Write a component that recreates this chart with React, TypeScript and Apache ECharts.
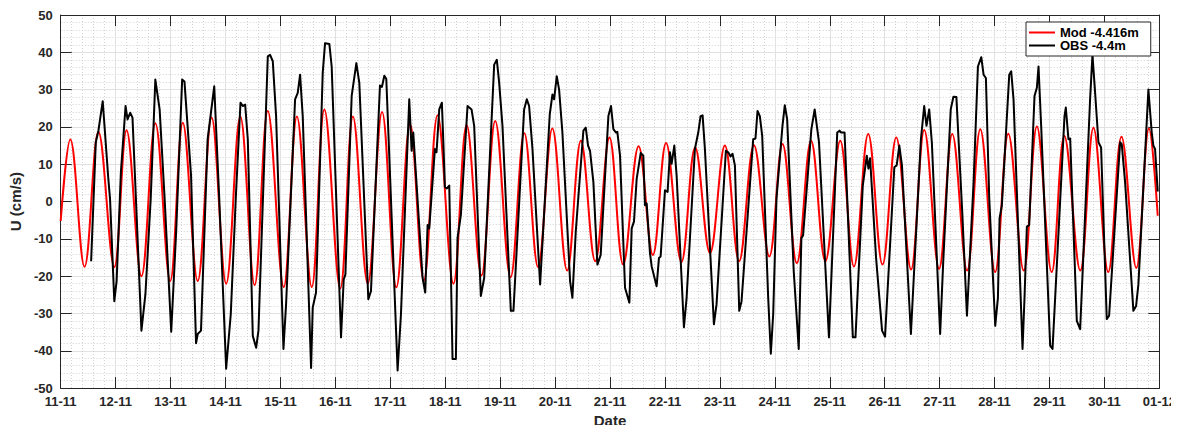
import React, { useEffect, useRef } from 'react';
import * as echarts from 'echarts';

// Tick labels along the date axis (one per day, value = days since 11-11)
const dateLabels = [
  '11-11', '12-11', '13-11', '14-11', '15-11', '16-11', '17-11', '18-11', '19-11', '20-11',
  '21-11', '22-11', '23-11', '24-11', '25-11', '26-11', '27-11', '28-11', '29-11', '30-11', '01-12',
];

// Model (red) – times in days since 11-11, U in cm/s (extremes of the tidal signal)
const modTime = [
  0, 0.175, 0.434, 0.687, 0.976, 1.199, 1.47, 1.723, 1.994, 2.223, 2.494, 2.747, 3.012,
  3.27, 3.53, 3.77, 4.06, 4.3, 4.57, 4.8, 5.09, 5.32, 5.59, 5.85, 6.11,
  6.36, 6.61, 6.86, 7.15, 7.39, 7.66, 7.91, 8.19, 8.44, 8.69, 8.95, 9.22, 9.47,
  9.73, 9.99, 10.24, 10.52, 10.78, 11.02, 11.3, 11.55, 11.82, 12.09, 12.35, 12.62, 12.9,
  13.14, 13.4, 13.66, 13.92, 14.19, 14.44, 14.7, 14.96, 15.21, 15.48, 15.72, 15.99, 16.23, 16.5,
  16.74, 17.01, 17.25, 17.53, 17.77, 18.04, 18.27, 18.56, 18.8, 19.07, 19.31, 19.58, 19.81, 19.97,
];
const modU = [
  -5.2, 16.6, -17.5, 18.7, -17.6, 19.1, -20, 21, -21.3, 21.1, -21.3, 22.5, -22,
  22.8, -22.4, 24.3, -22.9, 22.8, -22.9, 24.7, -23.3, 22.8, -22, 24.0, -23,
  20.7, -21.2, 23.1, -22, 20.5, -19.8, 21.6, -20.3, 18.3, -17.6, 19.6, -18.5, 16.3,
  -16, 17.2, -16.9, 14.8, -14.3, 15.7, -16.2, 14.5, -13.8, 15, -16, 15.1, -14.7,
  15.4, -16.5, 16.3, -16, 16.3, -17.4, 18.1, -16.9, 17.2, -18.2, 19.2, -18, 18.1, -18.5,
  19.4, -18.9, 18.2, -18.5, 20.1, -18.9, 17.6, -18.5, 19.8, -18.9, 17.4, -17.8, 19.6, -3.8,
];

// Observations (black) – times in days since 11-11, U in cm/s
const obsTime = [
  0.554, 0.639, 0.687, 0.765, 0.867, 0.898, 0.976, 1.018, 1.096, 1.181, 1.217, 1.265, 1.307, 1.349,
  1.47, 1.542, 1.639, 1.723, 1.801, 1.892, 2.012, 2.102, 2.211, 2.253, 2.373, 2.464, 2.494, 2.554,
  2.675, 2.795, 2.886, 3.012, 3.096, 3.187, 3.273, 3.315, 3.358, 3.406, 3.497, 3.558, 3.6,
  3.77, 3.812, 3.861, 3.921, 4.055, 4.103, 4.267, 4.315, 4.358, 4.406, 4.558, 4.588, 4.648,
  4.77, 4.812, 4.891, 4.933, 5.103, 5.152, 5.182, 5.297, 5.382, 5.436, 5.6, 5.648,
  5.812, 5.848, 5.891, 5.927, 6.133, 6.194, 6.345, 6.388, 6.418, 6.588, 6.636, 6.679, 6.709,
  6.812, 6.842, 6.891, 6.939, 6.97, 6.994, 7.03, 7.073, 7.133, 7.194, 7.224, 7.285,
  7.406, 7.479, 7.527, 7.648, 7.709, 7.891, 7.939, 7.982, 8.042, 8.194, 8.242,
  8.436, 8.485, 8.527, 8.588, 8.727, 8.903, 8.952, 8.982, 9.03, 9.073, 9.133, 9.273, 9.315, 9.376,
  9.515, 9.558, 9.6, 9.636, 9.697, 9.77, 9.83, 9.97, 10.018, 10.061, 10.109, 10.133, 10.182,
  10.273, 10.352, 10.394, 10.436, 10.485, 10.558, 10.606, 10.636, 10.667, 10.727, 10.758,
  10.848, 10.891, 10.921, 11.0, 11.048, 11.091, 11.121, 11.17, 11.212, 11.345, 11.394,
  11.545, 11.606, 11.648, 11.685, 11.727, 11.891, 11.939, 12.109, 12.152, 12.194, 12.23, 12.273,
  12.352, 12.394, 12.606, 12.648, 12.685, 12.727, 12.77, 12.879, 12.927, 12.97,
  13.03, 13.139, 13.181, 13.224, 13.344, 13.435, 13.483, 13.514, 13.665, 13.725, 13.804, 13.985,
  14.136, 14.178, 14.208, 14.269, 14.42, 14.468, 14.601, 14.674, 14.704, 14.734, 14.843, 14.952, 15.006,
  15.175, 15.218, 15.266, 15.314, 15.477, 15.526, 15.659, 15.719, 15.761, 15.81, 15.858,
  16.009, 16.063, 16.202, 16.251, 16.305, 16.414, 16.497, 16.618, 16.697, 16.758, 16.8, 16.842, 16.903,
  17.012, 17.061, 17.091, 17.133, 17.242, 17.267, 17.303, 17.345, 17.509, 17.545, 17.588, 17.63,
  17.727, 17.77, 17.8, 17.848, 18.012, 18.055, 18.273, 18.297, 18.345, 18.376, 18.497, 18.558,
  18.739, 18.782, 18.818, 18.891, 18.939, 19.042, 19.085, 19.285, 19.315, 19.376, 19.527, 19.576, 19.618,
  19.8, 19.861, 19.891, 19.921, 19.97,
];
const obsU = [
  -16, 15.9, 19, 26.9, 6.1, 0.8, -26.7, -21.3, 7.9, 25.6, 22, 23.8, 22.5, 7.9,
  -34.6, -24.9, 0.8, 32.7, 24.7, 0.8, -34.9, -8.1, 32.7, 32.2, 7, -38, -35.5, -34.6,
  16.7, 30.9, 0.8, -44.8, -30.2, 0.8, 26.5, 25.6, 26, 16.7, -36, -39.2, -34.6,
  38.9, 39.3, 37.6, 22.9, -39.5, -27.5, 27.4, 29.1, 34, 22.9, -44.6, -28.4, -24.4,
  34.5, 42.4, 42.2, 36.2, -36.4, -20.9, -19.6, 28.3, 37.1, 31.8, -26.2, -24,
  31.1, 30.7, 33.7, 32.9, -45.3, -30.2, 27.4, 13.6, 18.5, -20.5, -24.4, -6.3, -7.2,
  14.1, 13.2, 24.7, 26.5, 14.1, 3.9, 3.5, 4.3, -42.2, -42.2, -9.8, -3.6,
  25.6, 24.7, 20.3, -25.3, -20.5, 36.7, 38, 31.8, 20.3, -29.3, -29.3,
  24.7, 27.4, 25.6, 14.1, -22.2, 23.4, 28.7, 27.4, 33.6, 30, 18.5, -21.3, -25.8, -8.1,
  19, 19.8, 15, 13.6, 5.2, -16.9, -14.3, 22.9, 25.6, 19.4, 18.5, 18.7, 12.3,
  -23.1, -27.1, -7.2, -5.4, 6.1, 13, 12.3, -1, -0.5, -13.8, -17.4,
  -22.7, -15.1, -14.7, 3, 2.6, 13.2, 10.1, 15, 7, -33.7, -25.8,
  14.1, 18.5, 22.9, 23.1, 14.1, -32.9, -27.5, 13.6, 13.2, 12.1, 12.8, 9.7,
  -29.3, -26.7, 16.7, 16.9, 24.3, 22.9, 17.6, -25.8, -40.8, -30.2,
  0.8, 20.3, 25.8, 22.1, -18.7, -39.5, -9.8, -9.1, 19.4, 24.7, 15.9, -36.4,
  18.5, 19, 18.5, 18.5, -36.4, -36.4, 4.3, 12.3, 8.8, 11.6, -15.1, -34.6, -36.2,
  9.2, 9.7, 15, 9.7, -35.5, -21.3, 16.7, 25.6, 20.3, 24.7, 15.9,
  -35.5, -16.9, 24.7, 28.1, 28, -3.6, -30.6, 5.2, 36.2, 38.7, 34, 33.1, 0.8,
  -33.3, -25.8, -4.5, -1, 27.4, 34, 34.9, 27.4, -39.5, -25.8, -6.7, -6.3,
  28.3, 30.5, 36.2, 20.3, -38.6, -39.5, 22.9, 25.2, 16.7, 16.9, -32, -34.2,
  27.4, 39.3, 31.8, 15.9, 14.5, -31.5, -30.6, 15.9, 15.4, 5.2, -29.3, -28, -22.2,
  30, 18.5, 15, 14.1, 2.7,
];

const seriesNames = ['Mod -4.416m', 'OBS -4.4m'];

const FONT = '"Liberation Sans", Arial, Helvetica, sans-serif';
const AX = '#262626';

export default function App() {
  const ref = useRef<HTMLDivElement>(null);

  useEffect(() => {
    if (!ref.current) return;
    const chart = echarts.init(ref.current, null, { renderer: 'svg' });
    const pair = (t: number[], v: number[]) => t.map((x, i) => [x, v[i]]);

    const baseX = { type: 'value', min: 0, max: 20, interval: 1 };
    const baseY = { type: 'value', min: -50, max: 50, interval: 10 };
    const axLine = { show: true, onZero: false, lineStyle: { color: AX, width: 1 } };
    const axTick = { show: true, inside: true, length: 11, lineStyle: { color: AX, width: 1 } };
    const major = { show: true, lineStyle: { color: '#e1e1e1', width: 1 } };
    const minor = { show: true, lineStyle: { color: '#d2d2d2', width: 1, type: [1, 2] } };

    chart.setOption({
      animation: false,
      backgroundColor: '#ffffff',
      textStyle: { fontFamily: FONT },
      grid: { left: 59, right: 18, top: 15, bottom: 42 },
      legend: {
        left: 1026,
        top: 22,
        orient: 'vertical',
        backgroundColor: '#ffffff',
        borderColor: AX,
        borderWidth: 1,
        borderRadius: 0,
        padding: [4, 12, 4, 3],
        itemGap: 0,
        itemWidth: 26,
        itemHeight: 2,
        icon: 'rect',
        data: seriesNames,
        textStyle: { fontFamily: FONT, fontWeight: 'bold', fontSize: 13, color: '#000', lineHeight: 13 },
      },
      xAxis: [
        {
          ...baseX,
          position: 'bottom',
          name: 'Date',
          nameLocation: 'middle',
          nameGap: 22,
          nameTextStyle: { fontFamily: FONT, fontWeight: 'bold', fontSize: 15, color: AX },
          axisLine: axLine,
          axisTick: axTick,
          axisLabel: {
            formatter: (v: number) => dateLabels[Math.round(v)] ?? '',
            color: AX,
            fontFamily: FONT,
            fontWeight: 'bold',
            fontSize: 13,
            margin: 7,
          },
          splitLine: major,
          minorTick: { show: false, splitNumber: 5 },
          minorSplitLine: minor,
        },
        {
          ...baseX,
          position: 'top',
          axisLine: axLine,
          axisTick: axTick,
          axisLabel: { show: false },
          splitLine: { show: false },
        },
      ],
      yAxis: [
        {
          ...baseY,
          position: 'left',
          name: 'U (cm/s)',
          nameLocation: 'middle',
          nameRotate: 90,
          nameGap: 35,
          nameTextStyle: { fontFamily: FONT, fontWeight: 'bold', fontSize: 15, color: AX },
          axisLine: axLine,
          axisTick: axTick,
          axisLabel: { color: AX, fontFamily: FONT, fontWeight: 'bold', fontSize: 13, margin: 8 },
          splitLine: major,
          minorTick: { show: false, splitNumber: 5 },
          minorSplitLine: minor,
        },
        {
          ...baseY,
          position: 'right',
          axisLine: axLine,
          axisTick: axTick,
          axisLabel: { show: false },
          splitLine: { show: false },
        },
      ],
      series: [
        {
          name: seriesNames[0],
          type: 'line',
          xAxisIndex: 0,
          yAxisIndex: 0,
          data: pair(modTime, modU),
          smooth: 0.38,
          showSymbol: false,
          color: '#ff0000',
          lineStyle: { color: '#ff0000', width: 2 },
        },
        {
          name: seriesNames[1],
          type: 'line',
          xAxisIndex: 0,
          yAxisIndex: 0,
          data: pair(obsTime, obsU),
          showSymbol: false,
          color: '#000000',
          lineStyle: { color: '#000000', width: 2, join: 'round' },
        },
      ],
    });

    return () => chart.dispose();
  }, []);

  return <div ref={ref} style={{ width: 1179, height: 433, margin: -8 }} />;
}
